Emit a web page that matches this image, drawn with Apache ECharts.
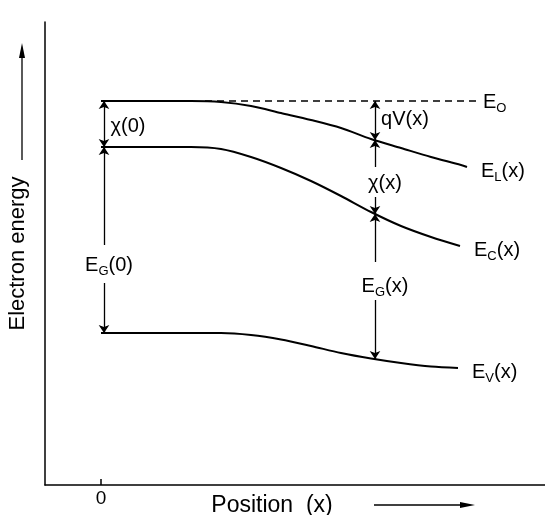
<!DOCTYPE html>
<html><head><meta charset="utf-8">
<script src="https://cdn.jsdelivr.net/npm/echarts@6/dist/echarts.min.js"></script>
<style>html,body{margin:0;padding:0;background:#fff}#c{width:545px;height:515px}</style>
</head><body><div id="c"></div>
<script>
// Band-edge curves (position, energy) in arbitrary units
const eLx = [0, 0.3, 0.6, 0.9, 1.2, 1.5, 1.8, 2.1, 2.4, 2.7, 3.0, 3.3, 3.6, 3.66];
const eLy = [3.84, 3.84, 3.84, 3.84, 3.83, 3.79, 3.72, 3.65, 3.57, 3.46, 3.37, 3.28, 3.20, 3.18];
const eCx = [0, 0.3, 0.6, 0.9, 1.2, 1.5, 1.8, 2.1, 2.4, 2.7, 3.0, 3.3, 3.59];
const eCy = [3.38, 3.38, 3.38, 3.38, 3.36, 3.28, 3.17, 3.04, 2.89, 2.73, 2.59, 2.48, 2.39];
const eVx = [0, 0.3, 0.6, 0.9, 1.2, 1.5, 1.8, 2.1, 2.4, 2.7, 3.0, 3.3, 3.57];
const eVy = [1.52, 1.52, 1.52, 1.52, 1.52, 1.50, 1.455, 1.39, 1.32, 1.265, 1.22, 1.185, 1.17];
const e0x = [1.04, 3.77];
const e0y = [3.84, 3.84];
// Dimension arrows: x, y from, y to
const dblArrowX = [0.03, 2.74];
const dblArrowFrom = [3.38, 3.45];
const dblArrowTo = [3.84, 3.84];
const arrowX = [0.03, 0.03, 2.74, 2.74, 2.74, 2.74];
const arrowFrom = [2.40, 2.02, 3.18, 2.88, 2.23, 1.85];
const arrowTo = [3.38, 1.52, 3.45, 2.71, 2.71, 1.26];
// Annotation labels
const annX = [0.27, 0.08, 3.04, 2.84, 2.84];
const annY = [3.60, 2.21, 3.67, 3.03, 2.00];
const annText = ['{m|χ(0)}', '{m|E}{s|G}{m|(0)}', '{m|qV(x)}', '{m|χ(x)}', '{m|E}{s|G}{m|(x)}'];
const endText = {EL: '{m|E}{s|L}{m|(x)}', EC: '{m|E}{s|C}{m|(x)}', EV: '{m|E}{s|V}{m|(x)}', E0: '{m|E}{s|O}'};
const xTicks = [0];

const FONT = 'Liberation Sans';
const rich = {
  m: {fontSize: 20, fontFamily: FONT, color: '#000', lineHeight: 24, verticalAlign: 'top', textBorderWidth: 0},
  s: {fontSize: 13, fontFamily: FONT, color: '#000', lineHeight: 24, verticalAlign: 'top', padding: [10, 0, 0, 0], textBorderWidth: 0}
};
const zip = (a, b) => a.map((v, i) => [v, b[i]]);

function curve(name, xs, ys, label) {
  return {
    type: 'line', name, data: zip(xs, ys), smooth: 0.3,
    symbol: 'none', lineStyle: {color: '#000', width: 2}, silent: true,
    endLabel: {show: true, formatter: label, rich, color: '#000', distance: 14, offset: [0, 6]}
  };
}

const chart = echarts.init(document.getElementById('c'), null, {renderer: 'canvas'});
chart.setOption({
  animation: false,
  grid: {left: 45, right: 0, top: 22, bottom: 30, containLabel: false, outerBoundsMode: 'none'},
  xAxis: {
    type: 'value', min: -0.56, max: 4.44,
    axisLine: {show: true, onZero: false, lineStyle: {color: '#000', width: 1.5}},
    axisTick: {show: true, inside: true, length: 6, customValues: xTicks, lineStyle: {color: '#000', width: 1.5}},
    axisLabel: {show: true, customValues: xTicks, formatter: v => String(v), fontSize: 19, fontFamily: FONT, color: '#000', margin: 4},
    splitLine: {show: false},
    name: 'Position  (x)', nameLocation: 'middle', nameGap: 9, nameMoveOverlap: false,
    nameTextStyle: {fontSize: 23, fontFamily: FONT, color: '#000', padding: [0, 46, 0, 0]}
  },
  yAxis: {
    type: 'value', min: 0, max: 4.63,
    axisLine: {show: true, onZero: false, lineStyle: {color: '#000', width: 1.5}},
    axisTick: {show: false}, axisLabel: {show: false}, splitLine: {show: false},
    name: 'Electron energy', nameLocation: 'middle', nameRotate: 90, nameGap: 16, nameMoveOverlap: false,
    nameTextStyle: {fontSize: 22, fontFamily: FONT, color: '#000'}
  },
  graphic: [
    {type: 'line', shape: {x1: 22, y1: 160, x2: 22, y2: 56}, style: {stroke: '#000', lineWidth: 1.3}},
    {type: 'polygon', shape: {points: [[22, 43], [19, 58], [25, 58]]}, style: {fill: '#000'}},
    {type: 'line', shape: {x1: 374, y1: 505, x2: 462, y2: 505}, style: {stroke: '#000', lineWidth: 1.3}},
    {type: 'polygon', shape: {points: [[475, 505], [460, 502], [460, 508]]}, style: {fill: '#000'}}
  ],
  series: [
    curve('EL', eLx, eLy, endText.EL),
    curve('EC', eCx, eCy, endText.EC),
    curve('EV', eVx, eVy, endText.EV),
    {type: 'line', name: 'E0', data: zip(e0x, e0y), symbol: 'none', silent: true,
     lineStyle: {color: '#000', width: 1.3, type: [7, 5]},
     endLabel: {show: true, formatter: endText.E0, rich, color: '#000', distance: 5, offset: [0, 3]}},
    {type: 'lines', coordinateSystem: 'cartesian2d', silent: true,
     symbol: ['arrow', 'arrow'], symbolSize: 8,
     lineStyle: {color: '#000', width: 1.3, opacity: 1},
     data: dblArrowX.map((x, i) => ({coords: [[x, dblArrowFrom[i]], [x, dblArrowTo[i]]]}))},
    {type: 'lines', coordinateSystem: 'cartesian2d', silent: true,
     symbol: ['none', 'arrow'], symbolSize: 8,
     lineStyle: {color: '#000', width: 1.3, opacity: 1},
     data: arrowX.map((x, i) => ({coords: [[x, arrowFrom[i]], [x, arrowTo[i]]]}))},
    {type: 'scatter', silent: true, symbolSize: 0, itemStyle: {color: '#000', opacity: 1},
     data: annX.map((x, i) => [x, annY[i], annText[i]]),
     label: {show: true, position: 'inside', color: '#000', textBorderWidth: 0, textBorderColor: 'transparent',
             offset: [0, 3], formatter: p => p.data[2], rich}}
  ]
});
</script></body></html>
